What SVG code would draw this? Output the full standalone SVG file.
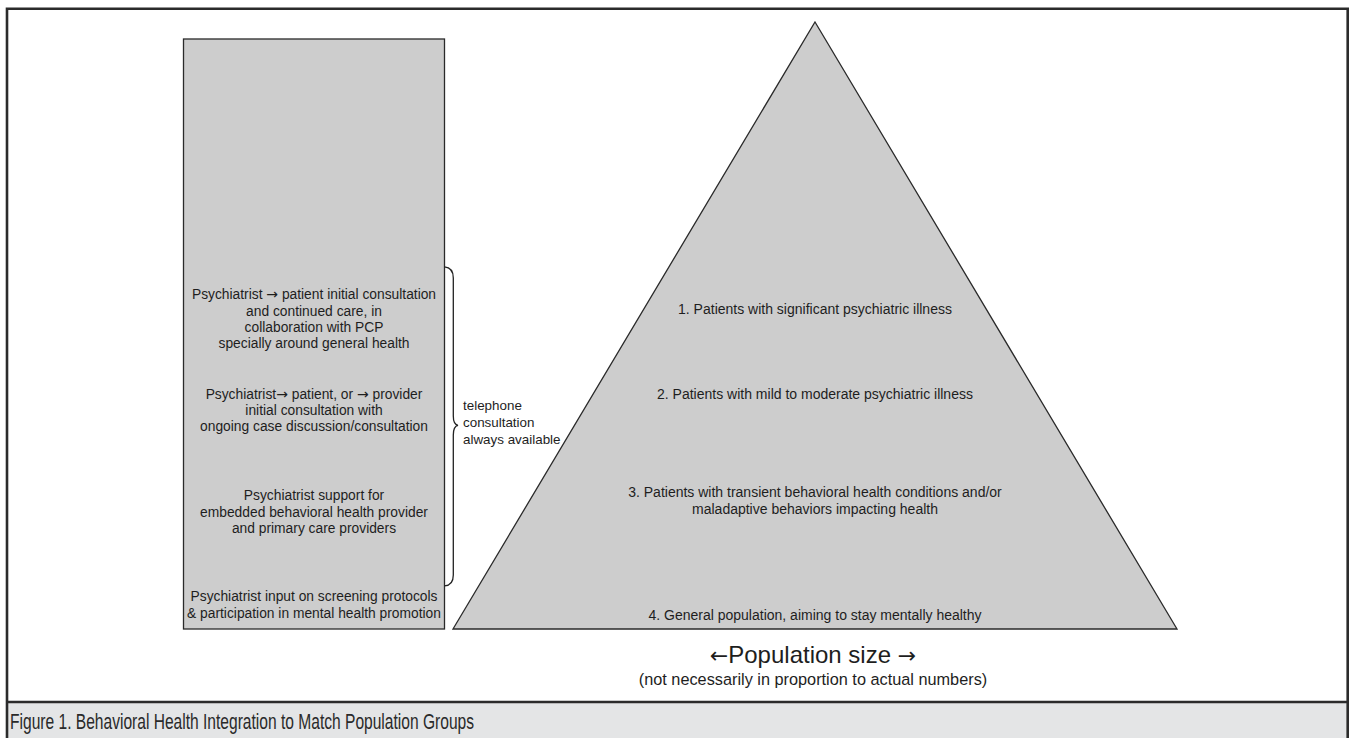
<svg xmlns="http://www.w3.org/2000/svg" width="1349" height="738" viewBox="0 0 1349 738">
<style>
  .t { font-family: "Liberation Sans", Arial, sans-serif; fill: #1e1e1e; }
  .c { text-anchor: middle; }
  .ar { font-family: "DejaVu Sans", sans-serif; }
  .shape { fill: #cdcdcd; stroke: #2a2a2a; stroke-width: 1.3; }
  .frame { fill: none; stroke: #2b2b2b; stroke-width: 2.6; }
</style>
<rect x="0" y="0" width="1349" height="738" fill="#ffffff"/>
<rect x="7" y="702" width="1341" height="37" fill="#e4e5e6"/>
<path class="frame" d="M7,739 L7,8.7 L1347.7,8.7 L1347.7,739 M7,702 L1347.7,702"/>

<g id="services">
  <rect class="shape" x="183.5" y="39" width="261" height="590"/>
  <g class="t c" font-size="13.8">
    <text x="314" y="299">Psychiatrist <tspan class="ar" font-size="14">→</tspan> patient initial consultation</text>
    <text x="314" y="315.5">and continued care, in</text>
    <text x="314" y="331.5">collaboration with PCP</text>
    <text x="314" y="347.5">specially around general health</text>
    <text x="314" y="399">Psychiatrist<tspan class="ar" font-size="14">→</tspan> patient, or <tspan class="ar" font-size="14">→</tspan> provider</text>
    <text x="314" y="415">initial consultation with</text>
    <text x="314" y="431">ongoing case discussion/consultation</text>
    <text x="314" y="500">Psychiatrist support for</text>
    <text x="314" y="517">embedded behavioral  health provider</text>
    <text x="314" y="533">and primary care providers</text>
    <text x="314" y="601">Psychiatrist input on screening protocols</text>
    <text x="314" y="618">&amp; participation in mental health promotion</text>
  </g>
</g>

<g id="connectors">
  <path d="M444.5,266.8 Q453.3,267.5 453.3,278 L453.3,416 Q453.3,424.5 458,425.3 Q453.3,426.2 453.3,435 L453.3,575 Q453.3,585.5 444.5,585.8" fill="none" stroke="#222" stroke-width="1.3"/>
</g>

<g id="telephone">
  <g class="t" font-size="13.4">
    <text x="463" y="410">telephone</text>
    <text x="463" y="427">consultation</text>
    <text x="463" y="444">always available</text>
  </g>
</g>

<g id="pyramid">
  <polygon class="shape" points="815,22 1177,629 453,629"/>
  <g class="t c" font-size="14">
    <text x="815" y="314">1. Patients with significant  psychiatric illness</text>
    <text x="815" y="398.5">2. Patients with mild to moderate  psychiatric illness</text>
    <text x="815" y="497">3. Patients with transient behavioral  health conditions and/or</text>
    <text x="815" y="514">maladaptive  behaviors impacting health</text>
    <text x="815" y="620">4. General population, aiming to stay mentally healthy</text>
  </g>
</g>

<g id="axis-label">
  <text class="t c" x="813" y="663" font-size="24"><tspan class="ar" font-size="22">←</tspan>Population size <tspan class="ar" font-size="22">→</tspan></text>
  <text class="t c" x="813" y="685" font-size="16.3">(not necessarily in proportion to actual numbers)</text>
</g>

<g id="caption">
  <text x="10" y="729" font-size="22" font-family="'Liberation Sans Narrow', 'Liberation Sans', Arial, sans-serif" fill="#2a2a2a" textLength="464" lengthAdjust="spacingAndGlyphs">Figure 1.  Behavioral Health Integration to Match Population Groups</text>
</g>
</svg>
